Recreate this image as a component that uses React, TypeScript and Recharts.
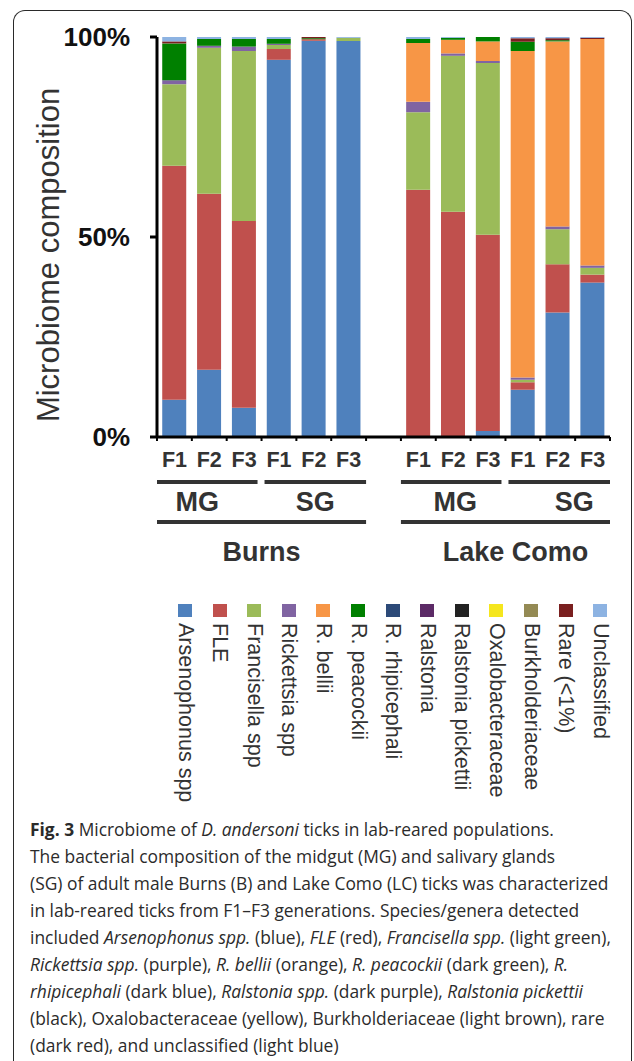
import { BarChart, Bar, XAxis, YAxis } from 'recharts'

/* ─── Data (percent of reads, bottom to top) ─── */

const generations = ['F1', 'F2', 'F3', 'F1', 'F2', 'F3', '', 'F1', 'F2', 'F3', 'F1', 'F2', 'F3']

const arsenophonus = [9.3, 16.8, 7.3, 94.3, 99.0, 99.0, 0, 0, 0, 1.5, 11.8, 31.2, 38.8]
const fle = [58.5, 44.0, 46.7, 2.7, 0.4, 0, 0, 61.8, 56.3, 49.0, 1.9, 12.1, 2.0]
const francisella = [20.4, 36.5, 42.5, 1.0, 0, 0.8, 0, 19.4, 39.0, 42.9, 0.6, 8.8, 1.7]
const rickettsia = [1.0, 0.5, 1.1, 0.3, 0, 0, 0, 2.6, 0.6, 0.5, 0.6, 0.7, 0.6]
const bellii = [0, 0, 0, 0, 0, 0, 0, 14.7, 3.4, 4.9, 81.7, 46.4, 56.9]
const peacockii = [9.2, 1.7, 1.9, 1.2, 0.25, 0, 0, 1.0, 0.5, 1.1, 2.3, 0.3, 0]
const rhipicephali = [0, 0, 0, 0, 0, 0, 0, 0, 0, 0, 0, 0, 0]
const ralstonia = [0, 0, 0, 0, 0, 0, 0, 0, 0, 0, 0, 0, 0]
const pickettii = [0, 0, 0, 0, 0, 0, 0, 0, 0, 0, 0, 0, 0]
const oxalobacteraceae = [0, 0, 0, 0, 0, 0, 0, 0, 0, 0, 0, 0, 0]
const burkholderiaceae = [0, 0, 0, 0, 0, 0, 0, 0, 0, 0, 0, 0, 0]
const rare = [0.5, 0, 0, 0, 0.3, 0, 0, 0, 0, 0, 0.9, 0.5, 0.3]
const unclassified = [1.1, 0.5, 0.5, 0.5, 0, 0.2, 0, 0.5, 0.2, 0, 0.3, 0.3, 0.2]

const tissueGroups = [
  { label: 'MG', from: 0, to: 2 },
  { label: 'SG', from: 3, to: 5 },
  { label: 'MG', from: 7, to: 9 },
  { label: 'SG', from: 10, to: 12 },
]
const siteGroups = [
  { label: 'Burns', from: 0, to: 5 },
  { label: 'Lake Como', from: 7, to: 12 },
]

const series = [
  { key: 'arsenophonus', name: 'Arsenophonus spp', values: arsenophonus, color: '#4f81bd' },
  { key: 'fle', name: 'FLE', values: fle, color: '#c0504d' },
  { key: 'francisella', name: 'Francisella spp', values: francisella, color: '#9bbb59' },
  { key: 'rickettsia', name: 'Rickettsia spp', values: rickettsia, color: '#8064a2' },
  { key: 'bellii', name: 'R. bellii', values: bellii, color: '#f79646' },
  { key: 'peacockii', name: 'R. peacockii', values: peacockii, color: '#008000' },
  { key: 'rhipicephali', name: 'R. rhipicephali', values: rhipicephali, color: '#2c4a78' },
  { key: 'ralstonia', name: 'Ralstonia', values: ralstonia, color: '#5c2a66' },
  { key: 'pickettii', name: 'Ralstonia pickettii', values: pickettii, color: '#222222' },
  { key: 'oxalo', name: 'Oxalobacteraceae', values: oxalobacteraceae, color: '#f5e61e' },
  { key: 'burkholderiaceae', name: 'Burkholderiaceae', values: burkholderiaceae, color: '#948a54' },
  { key: 'rare', name: 'Rare (<1%)', values: rare, color: '#7a1f1f' },
  { key: 'unclassified', name: 'Unclassified', values: unclassified, color: '#8db3e2' },
]

const rows = generations.map((g, i) => {
  const row: Record<string, any> = { id: `c${i}`, gen: g }
  series.forEach((s) => (row[s.key] = s.values[i]))
  return row
})

/* ─── Styling ─── */

const ARIAL = '"Liberation Sans", Arial, Helvetica, sans-serif'
const TEXT = '#333333'
const tissueNudge = [-10, 0, 4, 15]
const siteNudge = [0, 10]

function GenTick(props: any) {
  const { x, y, payload } = props
  const i: number = payload?.index ?? props.index
  const half: number = payload?.offset ?? 17.4
  const left = x - half
  const tIdx = tissueGroups.findIndex((g) => g.from === i)
  const sIdx = siteGroups.findIndex((g) => g.from === i)
  return (
    <g>
      <line x1={left} x2={left} y1={y} y2={y + 4} stroke="#000" strokeWidth={2} />
      {i === generations.length - 1 && (
        <line x1={x + half} x2={x + half} y1={y} y2={y + 4} stroke="#000" strokeWidth={2} />
      )}
      <text x={x} y={y + 23} textAnchor="middle" dominantBaseline="central"
        fontFamily={ARIAL} fontWeight={700} fontSize={21.5} fill={TEXT}>
        {generations[i]}
      </text>
      {tIdx >= 0 && (() => {
        const g = tissueGroups[tIdx]
        const span = (g.to - g.from + 1) * half * 2
        const x1 = left + (g.label === 'SG' ? 3 : 0)
        const x2 = left + span - (g.label === 'MG' ? 4 : 0)
        return (
          <g>
            <line x1={x1} x2={x2} y1={y + 45} y2={y + 45} stroke="#333" strokeWidth={4} />
            <text x={(x1 + x2) / 2 + tissueNudge[tIdx]} y={y + 65} textAnchor="middle" dominantBaseline="central"
              fontFamily={ARIAL} fontWeight={700} fontSize={27} fill={TEXT}>
              {g.label}
            </text>
          </g>
        )
      })()}
      {sIdx >= 0 && (() => {
        const g = siteGroups[sIdx]
        const span = (g.to - g.from + 1) * half * 2
        return (
          <g>
            <line x1={left} x2={left + span} y1={y + 85} y2={y + 85} stroke="#333" strokeWidth={4} />
            <text x={left + span / 2 + siteNudge[sIdx]} y={y + 115} textAnchor="middle" dominantBaseline="central"
              fontFamily={ARIAL} fontWeight={700} fontSize={27} fill={TEXT}>
              {g.label}
            </text>
          </g>
        )
      })()}
    </g>
  )
}

function YTitle(props: any) {
  const vb = props.viewBox || { x: 0, y: 37, width: 157, height: 400 }
  const cx = vb.x + 48
  const cy = vb.y + vb.height / 2 + 18
  return (
    <text x={cx} y={cy} transform={`rotate(-90, ${cx}, ${cy})`} textAnchor="middle" dominantBaseline="central"
      fontFamily={ARIAL} fontSize={31} fill={TEXT}>
      Microbiome composition
    </text>
  )
}

const it = (s: string) => <i>{s}</i>

export default function App() {
  return (
    <div style={{ position: 'absolute', left: 0, top: 0, width: 634, height: 1061, background: '#fff', overflow: 'hidden' }}>
      {/* figure frame */}
      <div style={{
        position: 'absolute', left: 13, top: 10, width: 640 - 13 - 10, height: 1100,
        border: '1.5px solid #2a2a2a', borderBottom: 'none', borderRadius: '12px 12px 0 0',
      }} />

      <div style={{ position: 'absolute', left: 0, top: 0 }}>
        <BarChart width={634} height={580} data={rows} stackOffset="expand" barCategoryGap="15%"
          margin={{ top: 37, right: 24, bottom: 0, left: 0 }}>
          <XAxis dataKey="id" height={143} interval={0} tickLine={false} tickSize={0} tickMargin={0}
            axisLine={{ stroke: '#000', strokeWidth: 3 }} tick={<GenTick />} />
          <YAxis width={157} domain={[0, 1]} ticks={[0, 0.5, 1]} tickSize={7} tickMargin={20}
            tickFormatter={(v: number) => `${Math.round(v * 100)}%`}
            axisLine={{ stroke: '#000', strokeWidth: 3 }} tickLine={{ stroke: '#000', strokeWidth: 3 }}
            tick={{ fontFamily: ARIAL, fontWeight: 700, fontSize: 26, fill: '#111' }}
            label={(p: any) => <YTitle {...p} />} />
          {series.map((s) => (
            <Bar key={s.key} dataKey={s.key} name={s.name} stackId="a" fill={s.color} isAnimationActive={false} />
          ))}
        </BarChart>
      </div>

      {/* legend */}
      {series.map((s, i) => {
        const cx = 185 + i * 34.6
        return (
          <div key={s.key}>
            <div style={{ position: 'absolute', left: cx - 7, top: 604, width: 14, height: 13, background: s.color }} />
            <div style={{
              position: 'absolute', left: cx + 11.5, top: 623, lineHeight: '23px', whiteSpace: 'nowrap',
              transform: 'rotate(90deg)', transformOrigin: 'left top',
              fontFamily: ARIAL, fontSize: 21.5, color: TEXT,
            }}>
              {s.name}
            </div>
          </div>
        )
      })}

      {/* caption */}
      <div style={{
        position: 'absolute', left: 30, top: 816, lineHeight: '27px', fontSize: 17.4,
        fontFamily: '"Open Sans", "Noto Sans", sans-serif', color: '#2b2b2b', whiteSpace: 'nowrap',
      }}>
        <div><b>Fig. 3</b> Microbiome of {it('D. andersoni')} ticks in lab-reared populations.</div>
        <div>The bacterial composition of the midgut (MG) and salivary glands</div>
        <div>(SG) of adult male Burns (B) and Lake Como (LC) ticks was characterized</div>
        <div>in lab-reared ticks from F1–F3 generations. Species/genera detected</div>
        <div>included {it('Arsenophonus spp.')} (blue), {it('FLE')} (red), {it('Francisella spp.')} (light green),</div>
        <div>{it('Rickettsia spp.')} (purple), {it('R. bellii')} (orange), {it('R. peacockii')} (dark green), {it('R.')}</div>
        <div>{it('rhipicephali')} (dark blue), {it('Ralstonia spp.')} (dark purple), {it('Ralstonia pickettii')}</div>
        <div>(black), Oxalobacteraceae (yellow), Burkholderiaceae (light brown), rare</div>
        <div>(dark red), and unclassified (light blue)</div>
      </div>
    </div>
  )
}
